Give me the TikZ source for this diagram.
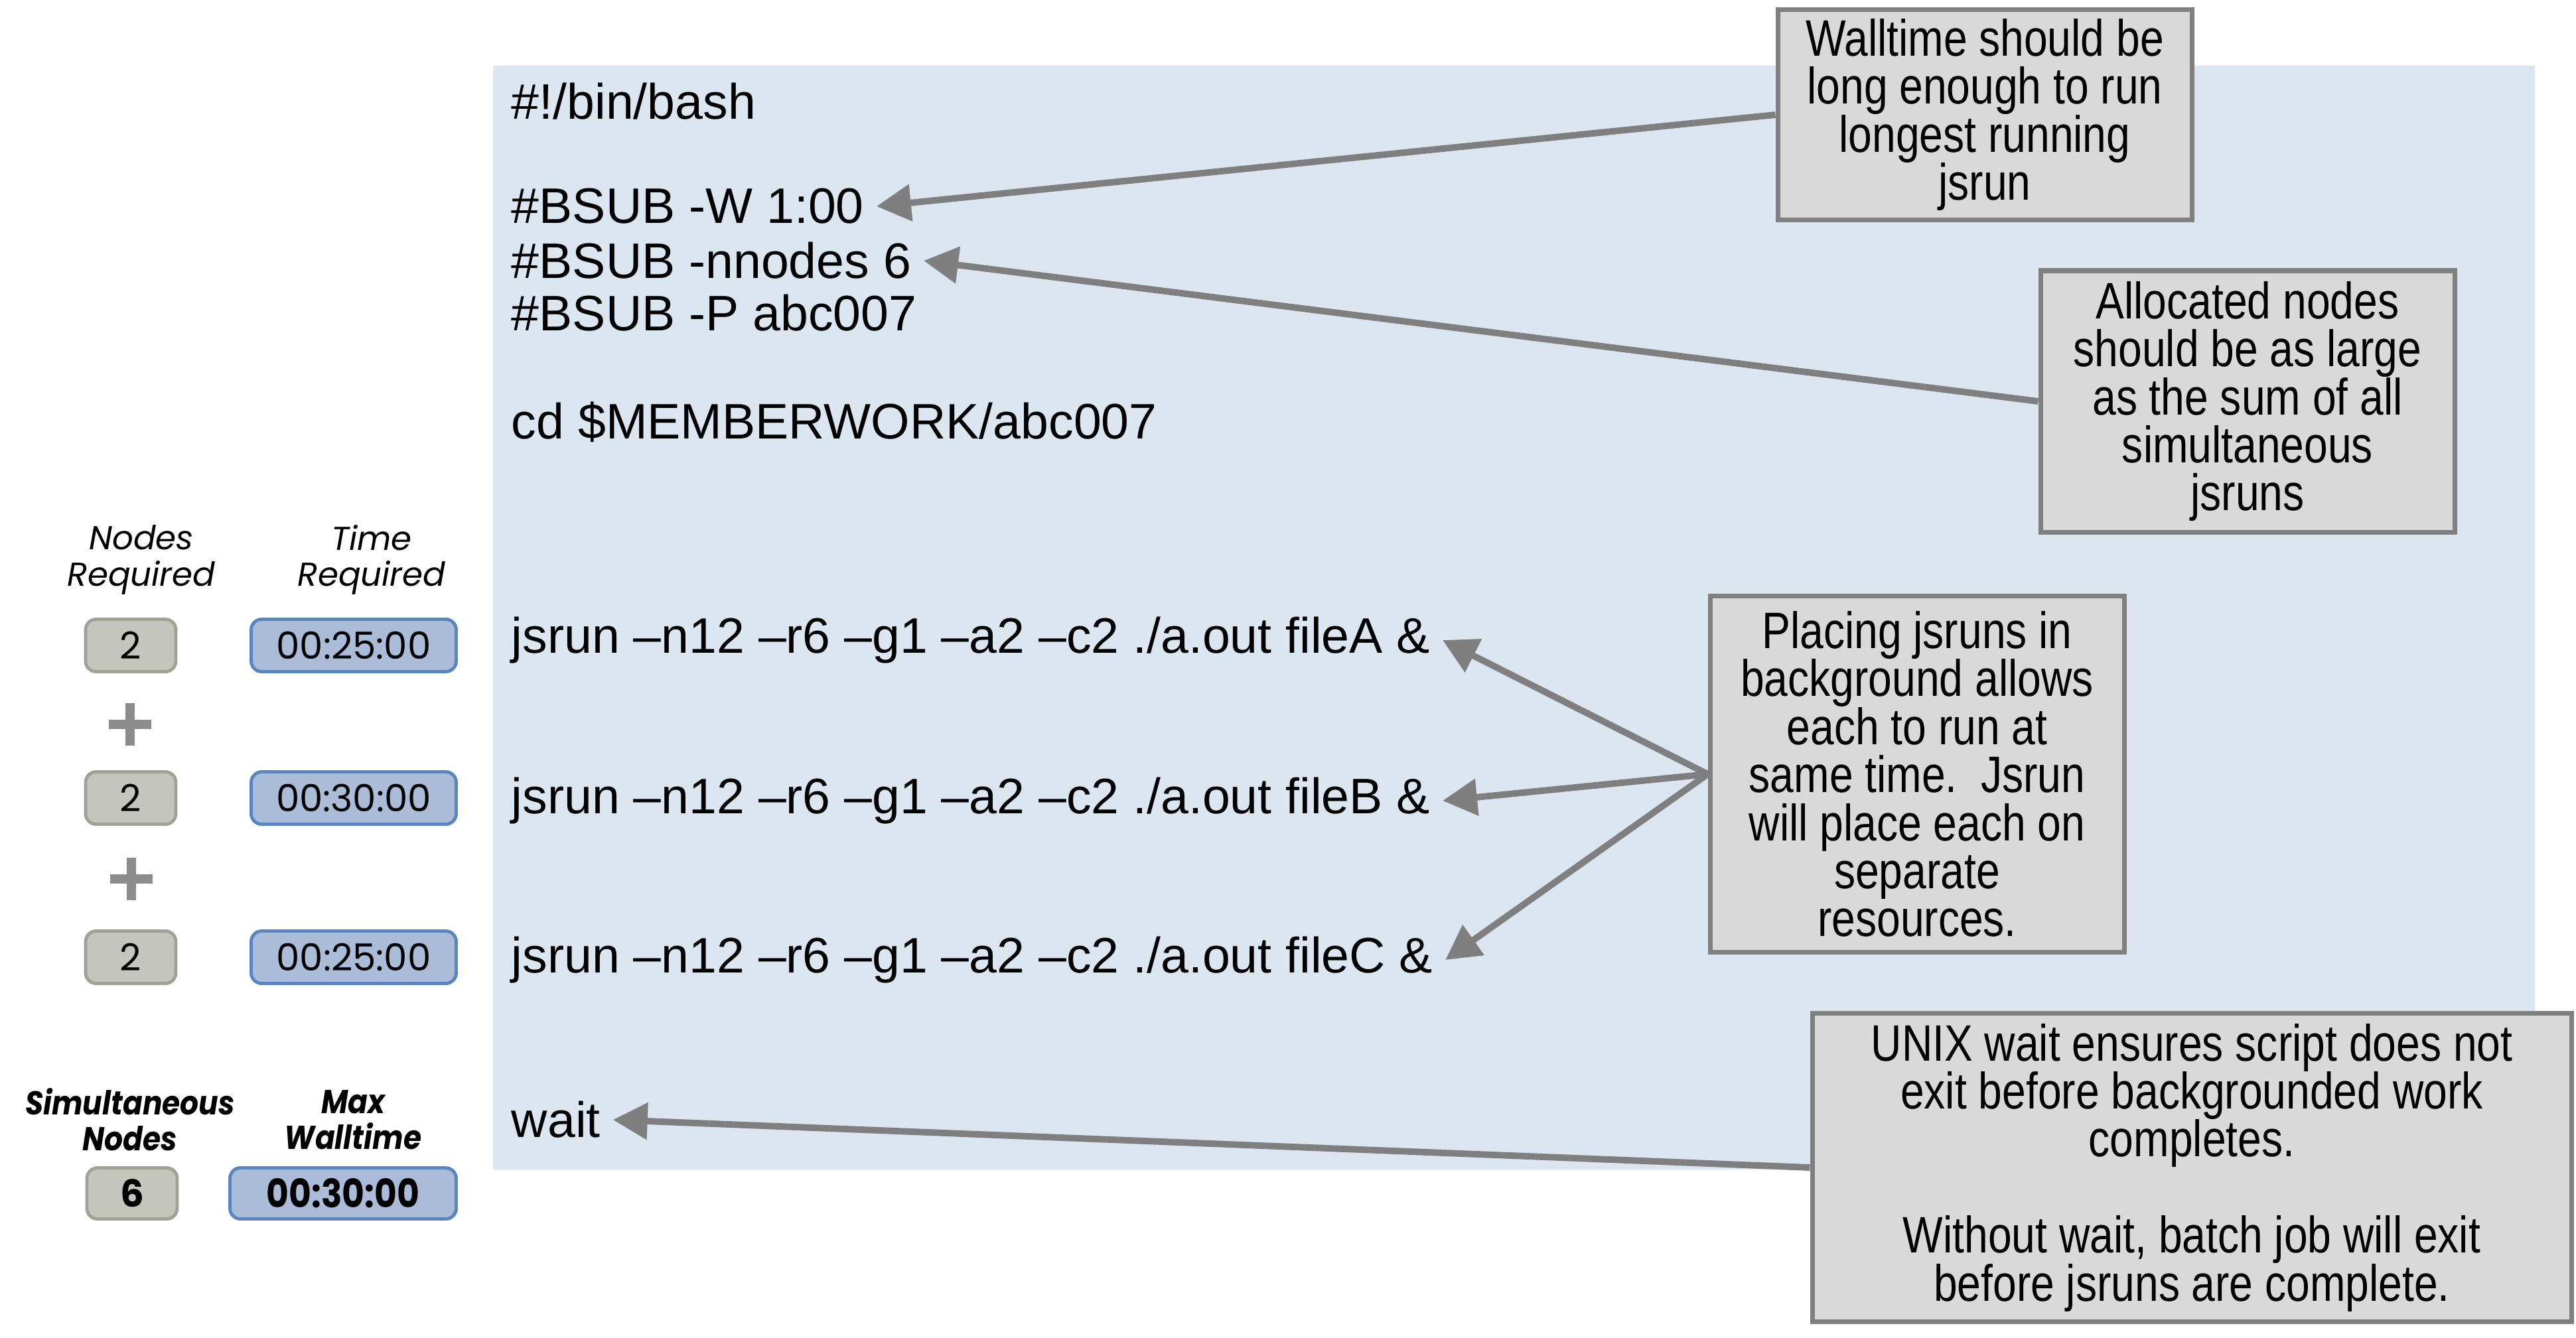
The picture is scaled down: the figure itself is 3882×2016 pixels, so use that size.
\documentclass[tikz,border=0pt]{standalone}
\usepackage{fontspec}
\setmainfont{Liberation Sans}
\newfontfamily\narrowfont[FakeStretch=0.83]{Liberation Sans}
\newfontfamily\gothicfont{Poppins}
\newfontfamily\gothicnarrow[FakeStretch=0.88]{Poppins}
\usepackage[HTML]{xcolor}
\usetikzlibrary{positioning, arrows.meta}

\definecolor{codebg}{HTML}{DCE6F1}
\definecolor{notefill}{HTML}{D9D9D9}
\definecolor{noteedge}{HTML}{7F7F7F}
\definecolor{nodefill}{HTML}{C4C6BD}
\definecolor{nodeedge}{HTML}{A0A394}
\definecolor{timefill}{HTML}{AABCD8}
\definecolor{timeedge}{HTML}{5A86C0}
\definecolor{plusgrey}{HTML}{8C8C8C}

\begin{document}
\begin{tikzpicture}[
    x=0.05mm, y=-0.05mm, % one unit is one pixel of the slide, y runs down
    codeline/.style={anchor=west, inner sep=2.5pt, font=\fontsize{10.7}{12}\selectfont},
    note/.style={draw=noteedge, fill=notefill, line width=1pt, inner sep=0pt,
        align=center, minimum width=31.2mm, font=\narrowfont\fontsize{11}{10.3}\selectfont},
    hint/.style={-{Triangle[length=2.6mm, width=2.7mm]}, draw=noteedge, line width=1.4pt},
    colhead/.style={align=center, inner sep=0pt, font=\gothicfont\itshape\fontsize{7.1}{7.7}\selectfont},
    sumhead/.style={colhead, font=\gothicnarrow\bfseries\itshape\fontsize{7.1}{7.7}\selectfont},
    nodebox/.style={draw=nodeedge, fill=nodefill, line width=0.7pt, rounded corners=0.8mm,
        minimum width=6.8mm, minimum height=3.95mm, inner sep=0pt, font=\gothicfont\fontsize{8}{10}\selectfont},
    timebox/.style={nodebox, draw=timeedge, fill=timefill, minimum width=15.45mm},
    plusbar/.style={draw=plusgrey, line width=2pt}
]
    \useasboundingbox (0,0) rectangle (3882,2016);

    % 1. The job script on its light blue panel
    \fill[codebg] (743,99) rectangle (3820,1763);
    \node[codeline] (bash) at (752,153) {\#!/bin/bash};
    \node[codeline] (bsubW) at (752,311) {\#BSUB -W 1:00};
    \node[codeline] (bsubN) at (752,393) {\#BSUB -nnodes 6};
    \node[codeline] (bsubP) at (752,472) {\#BSUB -P abc007};
    \node[codeline] (cdwork) at (752,636) {cd \$MEMBERWORK/abc007};
    \node[codeline] (runA) at (752,965) {jsrun –n12 –r6 –g1 –a2 –c2 ./a.out fileA \&};
    \node[codeline] (runB) at (752,1207) {jsrun –n12 –r6 –g1 –a2 –c2 ./a.out fileB \&};
    \node[codeline] (runC) at (752,1447) {jsrun –n12 –r6 –g1 –a2 –c2 ./a.out fileC \&};
    \node[codeline] (waitcmd) at (752,1688) {wait};

    % 2. The grey notes
    \node[note, minimum height=15.85mm] (wallnote) at (2991,173)
        {Walltime should be\\long enough to run\\longest running\\jsrun};
    \node[note, minimum height=19.7mm] (allocnote) at (3387,605)
        {Allocated nodes\\should be as large\\as the sum of all\\simultaneous\\jsruns};
    \node[note, minimum height=26.85mm] (bgnote) at (2889,1167)
        {Placing jsruns in\\background allows\\each to run at\\same time.~~Jsrun\\will place each on\\separate\\resources.};
    \node[note, minimum width=57.2mm, minimum height=23.25mm] (waitnote) at (3303,1760)
        {UNIX wait ensures script does not\\exit before backgrounded work\\completes.\\[10.3pt]Without wait, batch job will exit\\before jsruns are complete.};

    % 3. Arrows from the notes to the script lines
    \draw[hint] (wallnote.west) -- (bsubW.east);
    \draw[hint] (allocnote.west) -- (bsubN.east);
    \draw[hint] (bgnote.west) -- (runA.east);
    \draw[hint] (bgnote.west) -- (runB.east);
    \draw[hint] (bgnote.west) -- (runC.east);
    \draw[hint] (waitnote.west) -- (waitcmd.east);

    % 4. Resources of each jsrun, added up
    \node[colhead] (nodehead) at (213,844) {Nodes\\Required};
    \node[colhead] (timehead) at (560,844) {Time\\Required};
    \node[nodebox] (nodesA) at (197,973) {2};
    \node[timebox] (timeA) at (533,973) {00:25:00};
    \node[nodebox] (nodesB) at (197,1203) {2};
    \node[timebox] (timeB) at (533,1203) {00:30:00};
    \node[nodebox] (nodesC) at (197,1443) {2};
    \node[timebox] (timeC) at (533,1443) {00:25:00};
    \draw[plusbar] (196,1060) -- (196,1124) (164,1092) -- (228,1092);
    \draw[plusbar] (198,1293) -- (198,1357) (166,1325) -- (230,1325);

    % 5. Totals
    \node[sumhead] (simhead) at (196,1688) {Simultaneous\\Nodes};
    \node[sumhead] (maxhead) at (532,1688) {Max\\Walltime};
    \node[nodebox, minimum height=3.85mm] (nodesum) at (199,1799) {\bfseries 6};
    \node[timebox, minimum width=17.05mm, minimum height=3.85mm, font=\gothicnarrow\bfseries\fontsize{8.4}{10}\selectfont] (timemax) at (517,1799) {00:30:00};
\end{tikzpicture}
\end{document}
